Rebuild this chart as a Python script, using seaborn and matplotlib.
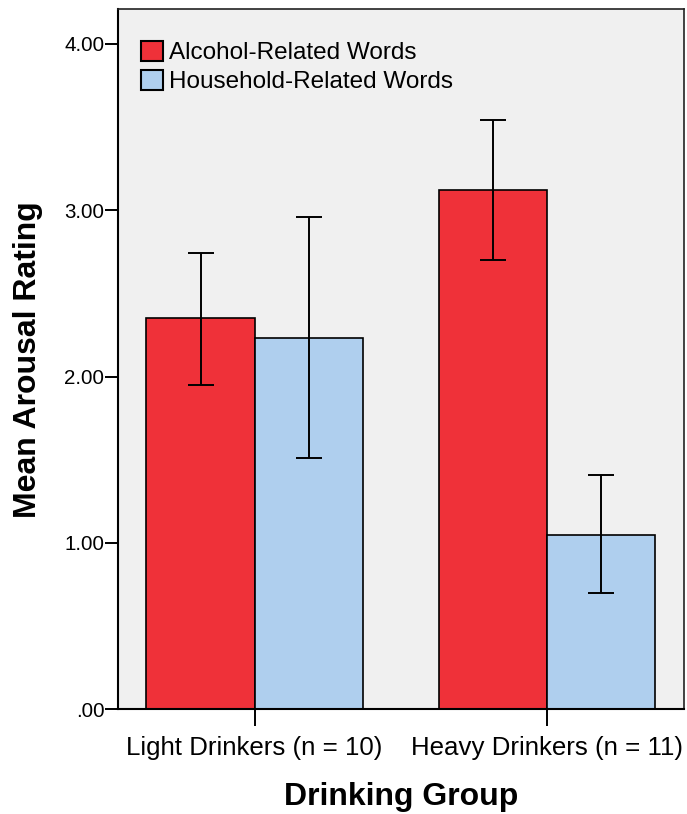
import matplotlib
matplotlib.use("Agg")
import matplotlib.pyplot as plt
import seaborn as sns
import pandas as pd
import numpy as np

# Mean arousal ratings by drinking group and word type, with 95% CI bounds
groups = ["Light Drinkers (n = 10)", "Heavy Drinkers (n = 11)"]
word_types = ["Alcohol-Related Words", "Household-Related Words"]
alcohol_means = [2.35, 3.12]
household_means = [2.23, 1.05]
alcohol_lower = [1.95, 2.70]
alcohol_upper = [2.74, 3.54]
household_lower = [1.51, 0.70]
household_upper = [2.96, 1.41]
y_ticks = [0, 1, 2, 3, 4]
y_tick_labels = [".00", "1.00", "2.00", "3.00", "4.00"]

df = pd.DataFrame({
    "group": groups * 2,
    "word": [word_types[0]] * 2 + [word_types[1]] * 2,
    "mean": alcohol_means + household_means,
    "lower": alcohol_lower + household_lower,
    "upper": alcohol_upper + household_upper,
})

sns.set_theme(style="white")
plt.rcParams["font.family"] = ["Liberation Sans", "DejaVu Sans"]
plt.rcParams["text.color"] = "black"
plt.rcParams["axes.labelcolor"] = "black"

fig = plt.figure(figsize=(6.87, 8.14), dpi=100)
ax = fig.add_axes([0.1718, 0.1286, 0.8234, 0.86])
ax.set_facecolor("#F0F0F0")

palette = {word_types[0]: "#EF3139", word_types[1]: "#AFCFEE"}
sns.barplot(data=df, x="group", y="mean", hue="word", order=groups,
            hue_order=word_types, palette=palette, errorbar=None,
            width=0.74, gap=0, edgecolor="black", linewidth=1.2,
            saturation=1, ax=ax)

# Confidence-interval whiskers centred on each bar
for container, word in zip(ax.containers, word_types):
    sub = df[df["word"] == word].set_index("group").loc[groups]
    xs = [p.get_x() + p.get_width() / 2 for p in container.patches]
    means = sub["mean"].to_numpy()
    err = np.vstack([means - sub["lower"].to_numpy(),
                     sub["upper"].to_numpy() - means])
    ax.errorbar(xs, means, yerr=err, fmt="none", ecolor="black",
                elinewidth=1.4, capsize=9.6, capthick=1.4, zorder=5)

ax.set_xlim(-0.467, 1.467)
ax.set_ylim(0, 4.207)
ax.set_yticks(y_ticks)
ax.set_yticklabels(y_tick_labels)

for side in ["left", "bottom"]:
    ax.spines[side].set_color("black")
    ax.spines[side].set_linewidth(1.5)
for side in ["top", "right"]:
    ax.spines[side].set_color("#222222")
    ax.spines[side].set_linewidth(1.2)

ax.tick_params(axis="y", which="major", left=True, length=9.4, width=1.4,
               direction="out", labelsize=14.8, pad=0.5, colors="black")
ax.tick_params(axis="x", which="major", bottom=True, length=12, width=1.4,
               direction="out", labelsize=18.6, pad=7, colors="black")

ax.set_xlabel("Drinking Group", fontsize=23, fontweight="bold", labelpad=16)
ax.set_ylabel("Mean Arousal Rating", fontsize=23, fontweight="bold", labelpad=15)

handles, labels = ax.get_legend_handles_labels()
leg = ax.legend(handles, labels, loc="upper left", bbox_to_anchor=(0.041, 0.955),
                frameon=False, fontsize=17.5, borderpad=0, borderaxespad=0,
                handlelength=0.9, handleheight=0.9, handletextpad=0.25,
                labelspacing=0.23)
for h in leg.legend_handles:
    h.set_edgecolor("black")
    h.set_linewidth(1.5)

fig.savefig("out.png", dpi=100)
